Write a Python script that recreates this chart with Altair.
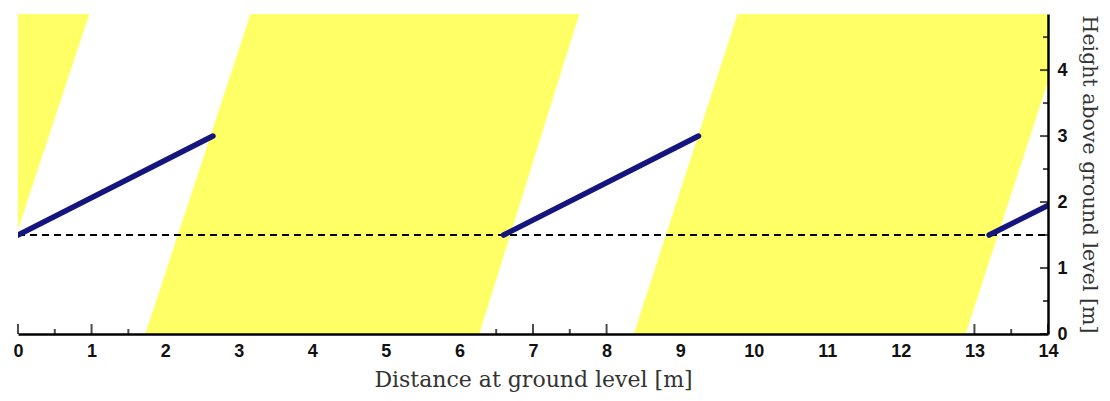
import altair as alt
import pandas as pd

# ---- data ----
x_major = list(range(0, 15))
x_minor = [0.5, 1.5, 2.5, 3.5, 4.5, 5.5, 6.5, 7.5, 8.5, 9.5, 10.5, 11.5, 12.5, 13.5]
y_major = [0, 1, 2, 3, 4]
y_minor = [0.5, 1.5, 2.5, 3.5, 4.5]

# yellow stripes (parallelograms): edge positions at ground and at the top
stripe_id = ["s1", "s2", "s3"]
left_bottom = [-6.0, 1.73, 8.37]
left_top = [-4.6, 3.16, 9.78]
right_bottom = [-0.47, 6.27, 12.88]
right_top = [0.97, 7.63, 14.3]

# blue segments
seg_id = ["a", "a", "b", "b", "c", "c"]
seg_x = [0.0, 2.65, 6.6, 9.25, 13.2, 14.0]
seg_y = [1.5, 3.0, 1.5, 3.0, 1.5, 1.95]

# dashed reference line
ref_x, ref_x2, ref_y = 0.0, 14.0, 1.5

X_MIN, X_MAX = 0, 14
Y_MIN, Y_MAX = 0, 4.85

# ---- shared scales / axes ----
xscale = alt.Scale(domain=[X_MIN, X_MAX], nice=False, zero=False)
yscale = alt.Scale(domain=[Y_MIN, Y_MAX], nice=False, zero=False)

TITLE_FONT = "DejaVu Serif"
LABEL_SIZE = 18

xaxis = alt.Axis(
    title="Distance at ground level [m]", values=x_major, format="d",
    ticks=False, tickSize=0, grid=False, domain=True, domainColor="black",
    domainWidth=2.5, labelFont="Liberation Sans", labelFontWeight="bold",
    labelFontSize=LABEL_SIZE, labelColor="#111", labelPadding=8,
    labelFlush=False, titleFont=TITLE_FONT, titleFontWeight="normal",
    titleFontSize=22, titleColor="#333", titlePadding=9, zindex=1,
)
yaxis = alt.Axis(
    orient="right", title="Height above ground level [m]", values=y_major,
    format="d", ticks=False, tickSize=0, grid=False, domain=True,
    domainColor="black", domainWidth=2.5, labelFont="Liberation Sans",
    labelFontWeight="bold", labelFontSize=LABEL_SIZE, labelColor="#111",
    labelPadding=9, labelFlush=False, titleFont=TITLE_FONT,
    titleFontWeight="normal", titleFontSize=20.5, titleColor="#333",
    titleAngle=90, titlePadding=11, zindex=1,
)


def X(field="x"):
    return alt.X(f"{field}:Q", scale=xscale, axis=xaxis)


def Y(field="y"):
    return alt.Y(f"{field}:Q", scale=yscale, axis=yaxis)


# ---- build polygon table for the stripes (vertical band area) ----
rows = []
for sid, lb, lt, rb, rt in zip(stripe_id, left_bottom, left_top,
                               right_bottom, right_top):
    rows += [
        {"stripe": sid, "x": lb, "y": Y_MIN, "y2": Y_MIN},
        {"stripe": sid, "x": lt, "y": Y_MIN, "y2": Y_MAX},
        {"stripe": sid, "x": rb, "y": Y_MIN, "y2": Y_MAX},
        {"stripe": sid, "x": rt, "y": Y_MAX, "y2": Y_MAX},
    ]
stripes_df = pd.DataFrame(rows)

# ---- layers ----
xmaj_df = pd.DataFrame({"x": x_major, "y": [Y_MIN] * len(x_major)})
xmin_df = pd.DataFrame({"x": x_minor, "y": [Y_MIN] * len(x_minor)})
ymaj_df = pd.DataFrame({"x": [X_MAX] * len(y_major), "y": y_major})
ymin_df = pd.DataFrame({"x": [X_MAX] * len(y_minor), "y": y_minor})

xt_major = alt.Chart(xmaj_df).mark_tick(
    orient="vertical", thickness=2, size=10, yOffset=-5, color="black"
).encode(x=X(), y=Y())
xt_minor = alt.Chart(xmin_df).mark_tick(
    orient="vertical", thickness=2, size=5, yOffset=-2.5, color="black"
).encode(x=X(), y=Y())

stripes = alt.Chart(stripes_df).mark_area(
    clip=True, color="#ffff66", opacity=1, interpolate="linear"
).encode(
    x=X(), y=Y(), y2="y2:Q", detail="stripe:N"
)

ref_df = pd.DataFrame({"x": [ref_x], "x2": [ref_x2], "y": [ref_y]})
ref = alt.Chart(ref_df).mark_rule(
    color="black", strokeWidth=2, strokeDash=[7, 5]
).encode(x=X(), x2="x2:Q", y=Y())

seg_df = pd.DataFrame({"seg": seg_id, "x": seg_x, "y": seg_y})
segs = alt.Chart(seg_df).mark_line(
    color="#15157f", strokeWidth=5.5, strokeCap="round", clip=True
).encode(x=X(), y=Y(), detail="seg:N")

yt_major = alt.Chart(ymaj_df).mark_tick(
    orient="horizontal", thickness=2, size=8, xOffset=-4, color="black"
).encode(x=X(), y=Y())
yt_minor = alt.Chart(ymin_df).mark_tick(
    orient="horizontal", thickness=2, size=5, xOffset=-2.5, color="black"
).encode(x=X(), y=Y())

chart = alt.layer(
    xt_major, xt_minor, stripes, ref, segs, yt_major, yt_minor
).properties(
    width=1030, height=320,
    autosize=alt.AutoSizeParams(type="none"),
    padding={"left": 18, "top": 14, "right": 62, "bottom": 67},
    background="white",
).configure_view(stroke=None)

chart.save("out.html", embed_options={"renderer": "svg", "actions": False})
